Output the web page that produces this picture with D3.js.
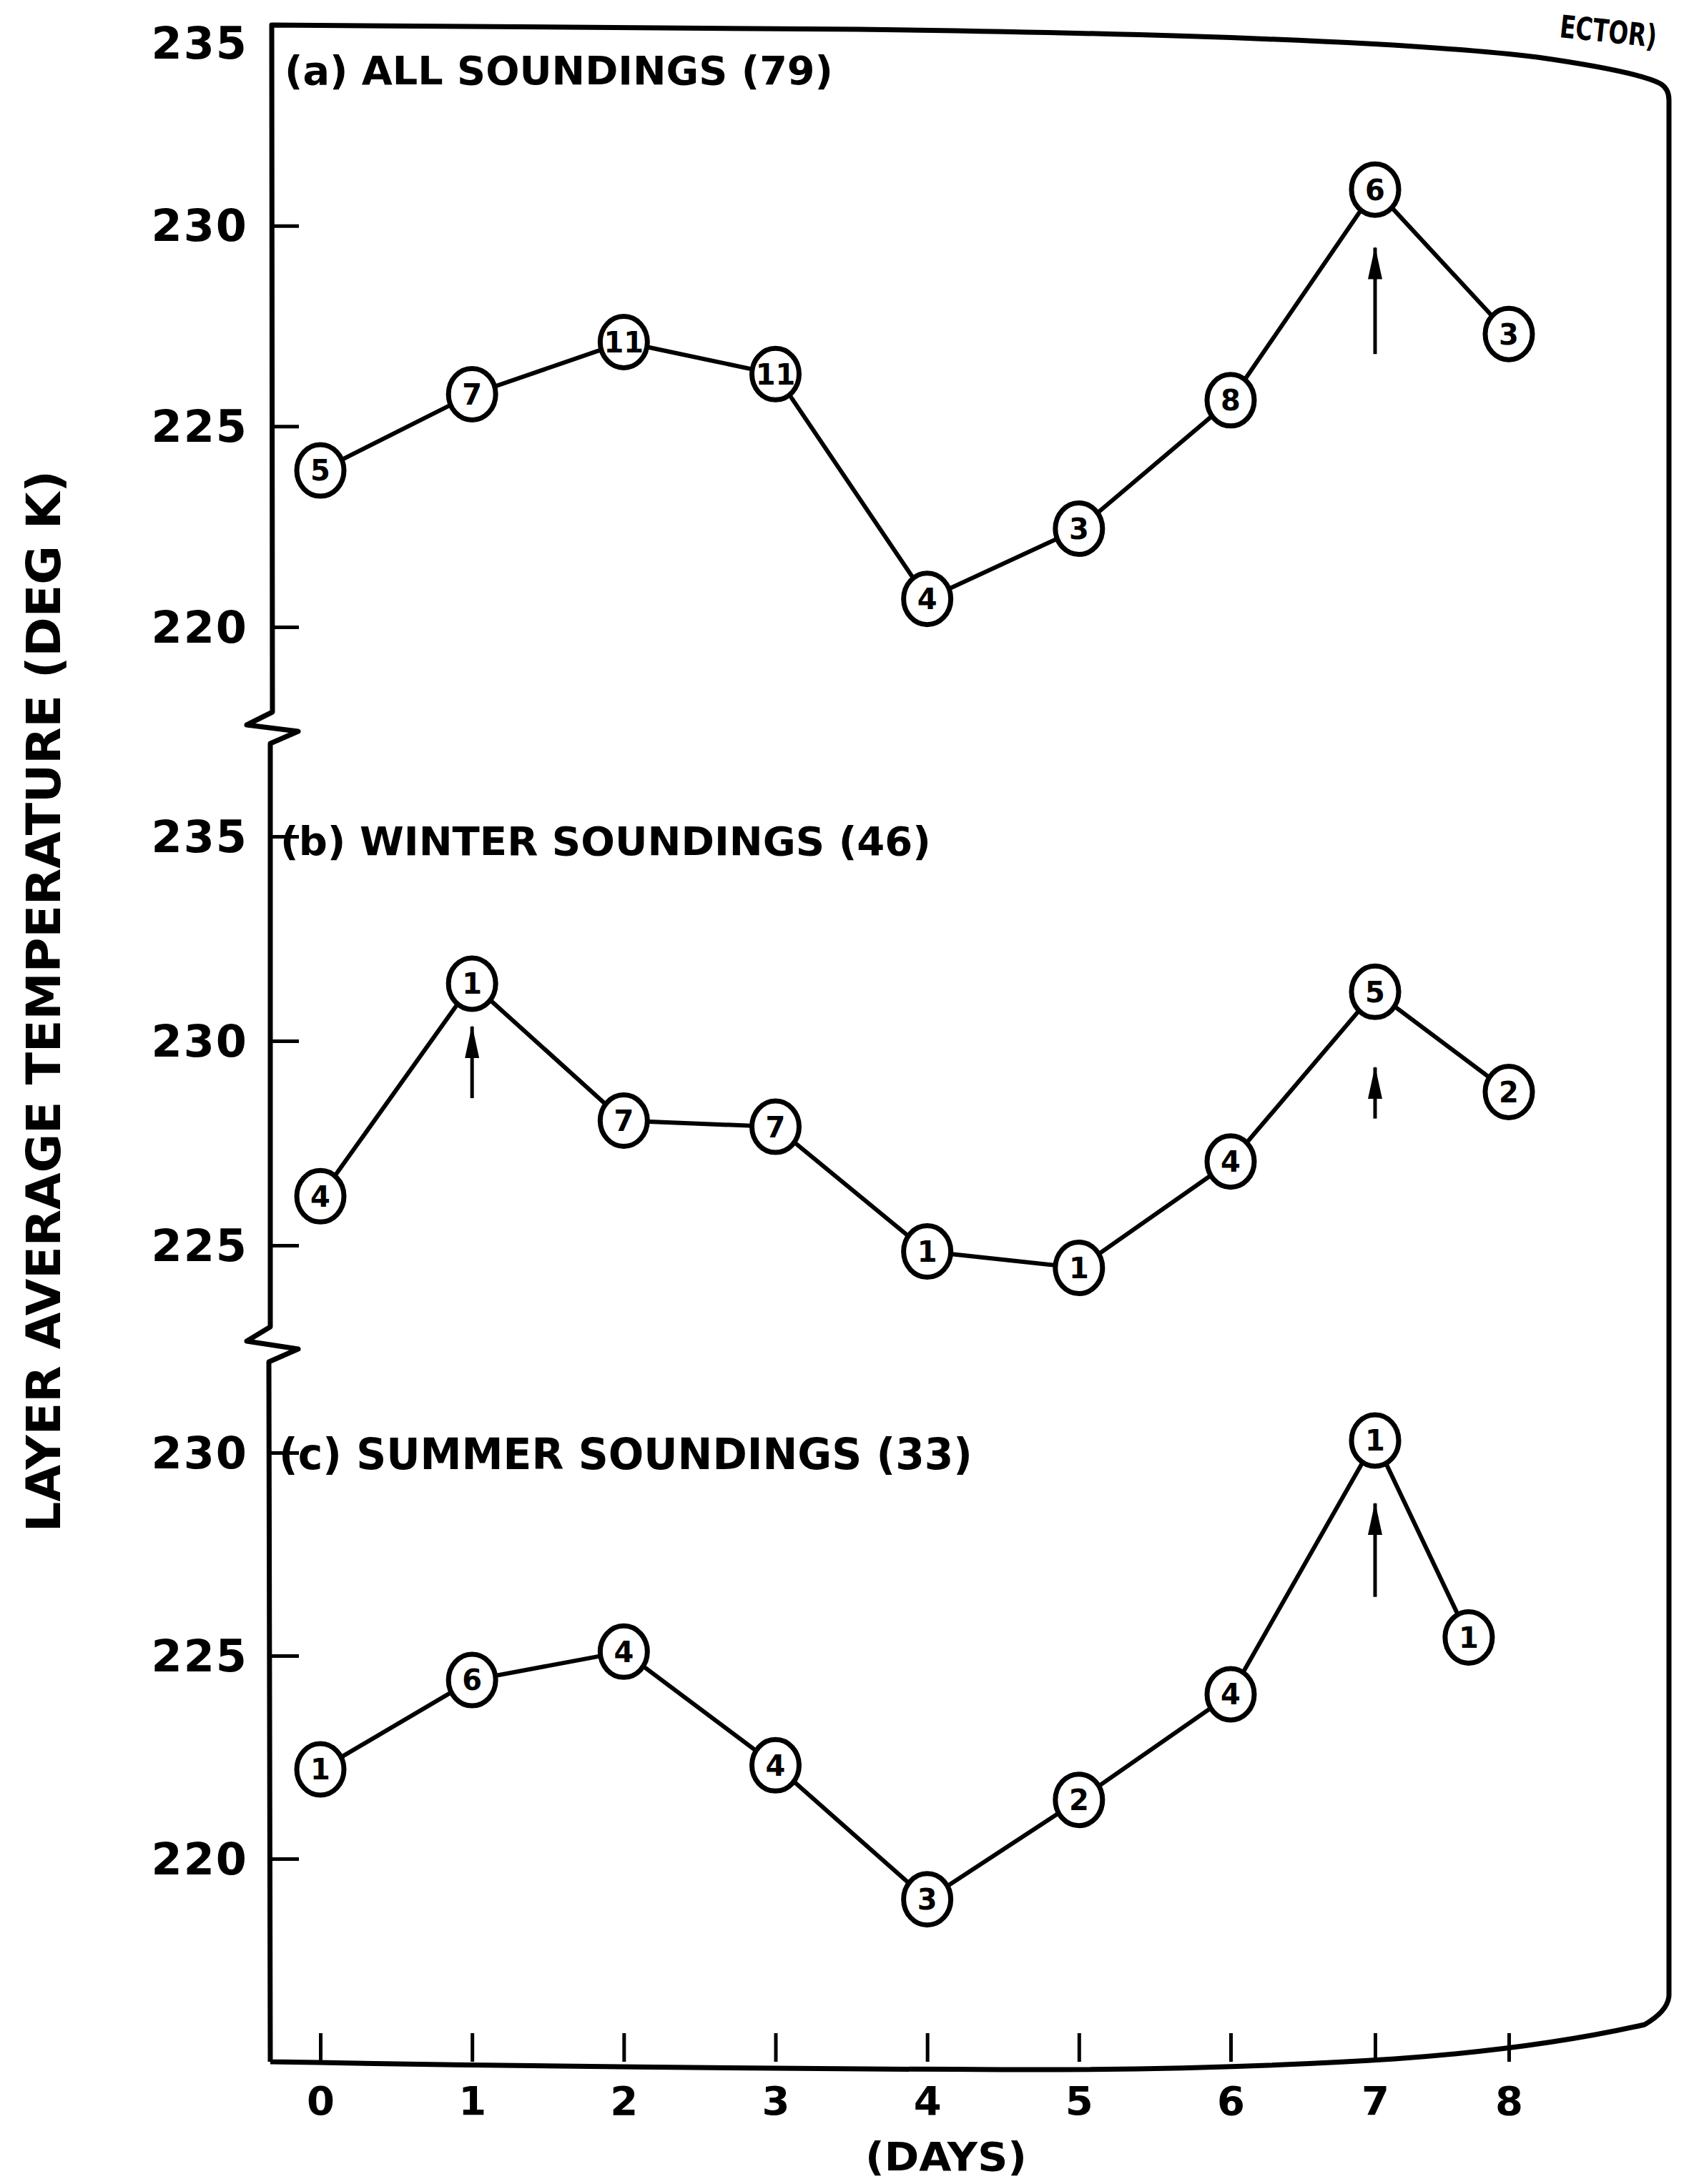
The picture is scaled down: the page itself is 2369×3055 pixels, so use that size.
<!DOCTYPE html>
<html>
<head>
<meta charset="utf-8">
<script src="https://cdn.jsdelivr.net/npm/d3@7"></script>
<style>
  body { margin: 0; background: #fff; }
  svg { display: block; }
  text { font-family: "DejaVu Sans", sans-serif; fill: #000; }
</style>
</head>
<body>
<div id="chart"></div>
<script>
const width = 2369
const height = 3055

// values
const days = [0, 1, 2, 3, 4, 5, 6, 7, 8]
const allTemp = [223.9, 225.8, 227.1, 226.3, 220.7, 222.45, 225.65, 230.9, 227.3]
const allCount = [5, 7, 11, 11, 4, 3, 8, 6, 3]
const winterTemp = [226.2, 231.4, 228.05, 227.9, 224.85, 224.45, 227.05, 231.2, 228.75]
const winterCount = [4, 1, 7, 7, 1, 1, 4, 5, 2]
const summerDays = [0, 1, 2, 3, 4, 5, 6, 7, 7.7]
const summerTemp = [222.2, 224.4, 225.1, 222.3, 219.0, 221.45, 224.05, 230.3, 225.45]
const summerCount = [1, 6, 4, 4, 3, 2, 4, 1, 1]

// arrows: [day, tail temp, tip temp]
const allArrows = [[7, 226.8, 229.45]]
const winterArrows = [[1, 228.6, 230.35], [7, 228.1, 229.35]]
const summerArrows = [[7, 226.45, 228.75]]

const allTicks = [235, 230, 225, 220]
const winterTicks = [235, 230, 225]
const summerTicks = [230, 225, 220]

const panelTitles = ["(a) ALL SOUNDINGS (79)", "(b) WINTER SOUNDINGS (46)", "(c) SUMMER SOUNDINGS (33)"]
const yTitle = "LAYER AVERAGE TEMPERATURE (DEG K)"
const xTitle = "(DAYS)"

const svg = d3.select("div#chart").append("svg").attr("width", width).attr("height", height)

const x = d3.scaleLinear().domain([0, 6, 7, 8]).range([448, 1721, 1923, 2110])
const yA = d3.scaleLinear().domain([235, 220]).range([35, 877])
const yB = d3.scaleLinear().domain([235, 225]).range([1170, 1742])
const yC = d3.scaleLinear().domain([230, 215]).range([2032, 2884])

svg.append("defs").append("marker")
    .attr("id", "head")
    .attr("markerUnits", "userSpaceOnUse")
    .attr("viewBox", "0 -11 46 22")
    .attr("refX", 44).attr("refY", 0)
    .attr("markerWidth", 46).attr("markerHeight", 22)
    .attr("orient", "auto")
    .append("path").attr("d", "M0,-10 L46,0 L0,10 Z").attr("fill", "#000")

// frame with the two axis breaks
svg.append("path")
    .attr("d", "M378,2884 L376,1905 L417,1887 L345,1876 L378,1856 L378,1040 L417,1023 L345,1014 L381,996 L380,35 " +
        "L1200,41 Q1900,50 2150,80 Q2290,100 2322,117 Q2334,124 2334,140 L2334,2790 Q2334,2812 2300,2832 " +
        "Q2150,2866 1950,2880 Q1700,2896 1400,2895 Q900,2893 378,2884")
    .attr("fill", "none").attr("stroke", "#000").attr("stroke-width", 7).attr("stroke-linejoin", "round")

const panels = [
    {y: yA, ticks: allTicks, days: days, temp: allTemp, count: allCount, arrows: allArrows, title: panelTitles[0], tx: 398, ty: 118, tl: 767, fs: 56},
    {y: yB, ticks: winterTicks, days: days, temp: winterTemp, count: winterCount, arrows: winterArrows, title: panelTitles[1], tx: 392, ty: 1196, tl: 910, fs: 56},
    {y: yC, ticks: summerTicks, days: summerDays, temp: summerTemp, count: summerCount, arrows: summerArrows, title: panelTitles[2], tx: 390, ty: 2055, tl: 970, fs: 60}
]

const line = y => d3.line().x(d => x(d.day)).y(d => y(d.temp))

panels.forEach(p => {
    const axisGroup = svg.append("g").attr("transform", `translate(378, 0)`)
    axisGroup.call(d3.axisLeft(p.y).tickValues(p.ticks).tickSize(-40).tickPadding(31).tickFormat(d3.format("d")))
    axisGroup.select(".domain").remove()
    axisGroup.selectAll(".tick line").attr("stroke", "#000").attr("stroke-width", 5)
    axisGroup.selectAll(".tick text")
        .attr("font-size", 62).attr("font-weight", "bold").attr("letter-spacing", 2)
        .attr("font-family", "DejaVu Sans").attr("fill", "#000")
        .attr("dy", d => d === 235 && p.y === yA ? "0.75em" : "0.34em")

    svg.append("text")
        .attr("x", p.tx).attr("y", p.ty)
        .attr("font-size", p.fs).attr("font-weight", "bold")
        .attr("textLength", p.tl).attr("lengthAdjust", "spacingAndGlyphs")
        .text(p.title)

    const data = p.days.map((d, i) => ({day: d, temp: p.temp[i], count: p.count[i]}))
    const g = svg.append("g")

    g.append("path").datum(data)
        .attr("d", line(p.y))
        .attr("fill", "none").attr("stroke", "#000").attr("stroke-width", 6)

    g.selectAll("line.arrow").data(p.arrows).enter()
        .append("line")
        .attr("class", "arrow")
        .attr("x1", d => x(d[0])).attr("x2", d => x(d[0]))
        .attr("y1", d => p.y(d[1])).attr("y2", d => p.y(d[2]))
        .attr("stroke", "#000").attr("stroke-width", 5)
        .attr("marker-end", "url(#head)")

    const pts = g.selectAll("g.pt").data(data).enter()
        .append("g").attr("class", "pt")
        .attr("transform", d => `translate(${x(d.day)}, ${p.y(d.temp)})`)
    pts.append("ellipse")
        .attr("rx", 33).attr("ry", 36)
        .attr("fill", "#fff").attr("stroke", "#000").attr("stroke-width", 7)
    pts.append("text")
        .attr("text-anchor", "middle").attr("dy", "0.36em")
        .attr("font-size", 40).attr("font-weight", "bold")
        .text(d => d.count)
})

// x axis
const xAxisGroup = svg.append("g").attr("transform", `translate(0, 2884)`)
xAxisGroup.call(d3.axisBottom(x).tickValues(days).tickSize(-40).tickPadding(34).tickFormat(d3.format("d")))
xAxisGroup.select(".domain").remove()
xAxisGroup.selectAll(".tick line").attr("stroke", "#000").attr("stroke-width", 5)
xAxisGroup.selectAll(".tick text")
    .attr("font-size", 56).attr("font-weight", "bold")
    .attr("font-family", "DejaVu Sans").attr("fill", "#000")

svg.append("text")
    .attr("x", 1210).attr("y", 3036)
    .attr("font-size", 56).attr("font-weight", "bold")
    .attr("textLength", 226).attr("lengthAdjust", "spacingAndGlyphs")
    .text(xTitle)

svg.append("text")
    .attr("transform", `translate(84, 2143) rotate(-90)`)
    .attr("font-size", 66).attr("font-weight", "bold")
    .attr("textLength", 1485).attr("lengthAdjust", "spacingAndGlyphs")
    .text(yTitle)

// caption fragment at the top right
svg.append("text")
    .attr("transform", `translate(2180, 52) rotate(6)`)
    .attr("font-size", 44).attr("font-weight", "bold")
    .attr("textLength", 136).attr("lengthAdjust", "spacingAndGlyphs")
    .text("ECTOR)")
</script>
</body>
</html>
